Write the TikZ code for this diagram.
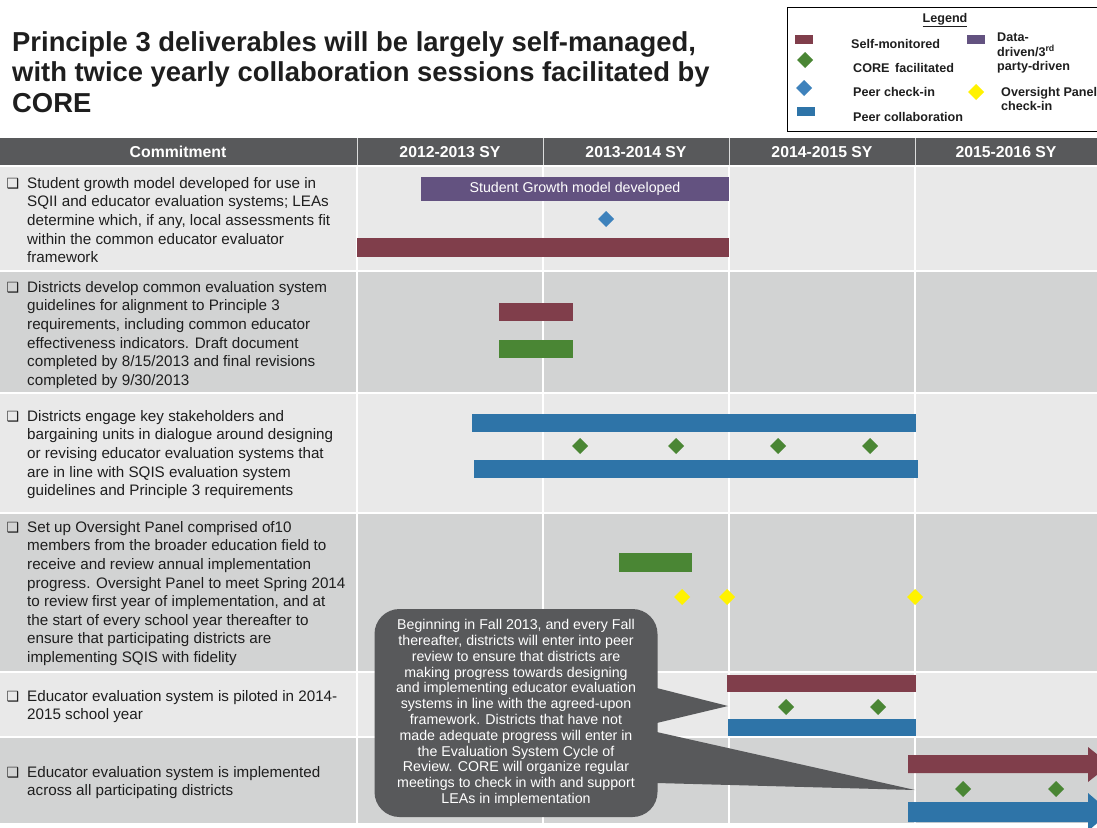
\documentclass[tikz,border=0pt]{standalone}
\usepackage{fontspec}
\setmainfont{Liberation Sans}
\newfontfamily\dejavu{DejaVu Sans}
\definecolor{selfmon}{RGB}{128,62,75}
\definecolor{datadr}{RGB}{99,82,128}
\definecolor{peercol}{RGB}{46,116,168}
\definecolor{peerchk}{RGB}{62,130,188}
\definecolor{corefac}{RGB}{74,134,52}
\definecolor{headgray}{RGB}{88,89,91}
\definecolor{rowlight}{RGB}{233,233,233}
\definecolor{rowdark}{RGB}{210,211,211}
\definecolor{ink}{RGB}{30,30,30}
\def\dm{+(-8,0) -- +(0,-8) -- +(8,0) -- +(0,8) -- cycle}
\def\rtxt{\fontsize{15.2}{18.6}\selectfont}

\begin{document}
\begin{tikzpicture}[x=1pt,y=-1pt,
  row/.style={anchor=north west,inner sep=0pt,align=left,font=\rtxt,text=ink},
  bul/.style={inner sep=0pt,font=\dejavu\fontsize{14}{14}\selectfont,text=ink},
  yr/.style={text=white,font=\bfseries\fontsize{15.8}{17}\selectfont},
  lgd/.style={anchor=west,inner sep=0pt,align=left,font=\bfseries\fontsize{12.6}{14.5}\selectfont,text=ink},
  grid/.style={draw=white,line width=1.5pt}]
\useasboundingbox[fill=white] (0,0) rectangle (1097,827);

\node[anchor=north west,inner sep=0pt,align=left,text=ink,
  font=\bfseries\fontsize{27.4}{30.5}\selectfont] (ttl) at (12,31)
  {Principle 3 deliverables will be largely self-managed,\\
   with twice yearly collaboration sessions facilitated by\\
   CORE};

\draw[line width=0.8pt] (787,7) rectangle (1100,131);
\node[lgd,anchor=center] (lgtitle) at (945,20) {\underline{Legend}};
\fill[selfmon] (795,35) rectangle (813,44);
\fill[corefac] (805,60) \dm;
\fill[peerchk] (804,88) \dm;
\fill[peercol] (797,107) rectangle (815,116);
\fill[datadr] (967,35) rectangle (985,44);
\fill[yellow] (976,92) \dm;
\node[lgd] (lg1) at (851,44) {Self-monitored};
\node[lgd] (lg2) at (853,68) {CORE\, facilitated};
\node[lgd] (lg3) at (853,92) {Peer check-in};
\node[lgd] (lg4) at (853,117) {Peer collaboration};
\node[lgd] (lg5) at (997,53) {Data-\\driven/3\textsuperscript{rd}\\party-driven};
\node[lgd] (lg6) at (1001,99) {Oversight Panel\\check-in};

\fill[headgray] (0,138) rectangle (1097,166);
\fill[rowlight] (0,166) rectangle (1097,271);
\fill[rowdark] (0,271) rectangle (1097,393);
\fill[rowlight] (0,393) rectangle (1097,513);
\fill[rowdark] (0,513) rectangle (1097,672);
\fill[rowlight] (0,672) rectangle (1097,737);
\fill[rowdark] (0,737) rectangle (1097,823);
\foreach \x in {357,543,729,915}{
  \draw[draw=rowdark!80,line width=1pt] (\x,138) -- (\x,166);
  \draw[grid] (\x,166) -- (\x,823);
}
\foreach \y in {166,271,393,513,672,737}{
  \draw[grid] (0,\y) -- (1097,\y);
}

\node[yr] (h0) at (178,152) {Commitment};
\node[yr] (h1) at (450,152) {2012-2013 SY};
\node[yr] (h2) at (636,152) {2013-2014 SY};
\node[yr] (h3) at (822,152) {2014-2015 SY};
\node[yr] (h4) at (1006,152) {2015-2016 SY};

\node[bul] (b1) at (13,184) {❑};
\node[bul] (b2) at (13,288) {❑};
\node[bul] (b3) at (13,417) {❑};
\node[bul] (b4) at (13,528) {❑};
\node[bul] (b5) at (13,697) {❑};
\node[bul] (b6) at (13,773) {❑};
\node[row] (t1) at (27,177) {Student growth model developed for use in\\
  SQII and educator evaluation systems; LEAs\\
  determine which, if any, local assessments fit\\
  within the common educator evaluator\\
  framework};
\node[row] (t2) at (27,281) {Districts develop common evaluation system\\
  guidelines for alignment to Principle 3\\
  requirements, including common educator\\
  effectiveness indicators. Draft document\\
  completed by 8/15/2013 and final revisions\\
  completed by 9/30/2013};
\node[row] (t3) at (27,410) {Districts engage key stakeholders and\\
  bargaining units in dialogue around designing\\
  or revising educator evaluation systems that\\
  are in line with SQIS evaluation system\\
  guidelines and Principle 3 requirements};
\node[row] (t4) at (27,521) {Set up Oversight Panel comprised of10\\
  members from the broader education field to\\
  receive and review annual implementation\\
  progress. Oversight Panel to meet Spring 2014\\
  to review first year of implementation, and at\\
  the start of every school year thereafter to\\
  ensure that participating districts are\\
  implementing SQIS with fidelity};
\node[row] (t5) at (27,690) {Educator evaluation system is piloted in 2014-\\
  2015 school year};
\node[row] (t6) at (27,766) {Educator evaluation system is implemented\\
  across all participating districts};

\node[fill=datadr,minimum width=308pt,minimum height=24pt,inner sep=0pt,
  text=white,font=\fontsize{14.2}{15}\selectfont] (sgm) at (575,189)
  {Student Growth model developed};
\fill[peerchk] (606,219) \dm;
\fill[selfmon] (357,238) rectangle (729,257);

\fill[selfmon] (499,303) rectangle (573,321);
\fill[corefac] (499,340) rectangle (573,358);

\fill[peercol] (472,414) rectangle (916,432);
\foreach \x in {580,676,778,870}
  \fill[corefac] (\x,446) \dm;
\fill[peercol] (474,460) rectangle (918,478);

\fill[corefac] (619,553) rectangle (692,572);
\foreach \x in {682,727,915}
  \fill[yellow] (\x,597) \dm;

\fill[selfmon] (727,675) rectangle (916,692);
\foreach \x in {786,878}
  \fill[corefac] (\x,707) \dm;
\fill[peercol] (728,719) rectangle (916,736);

\fill[selfmon] (908,755) -- (1088,755) -- (1088,747) -- (1110,764.5)
  -- (1088,782) -- (1088,773) -- (908,773) -- cycle;
\foreach \x in {963,1056}
  \fill[corefac] (\x,789) \dm;
\fill[peercol] (908,802) -- (1088,802) -- (1088,793) -- (1110,812)
  -- (1088,831) -- (1088,822) -- (908,822) -- cycle;

\coordinate (tipA) at (728,706);
\coordinate (tipB) at (915,790);
\node[fill=headgray,rounded corners=25pt,minimum width=283pt,minimum height=208pt,
  inner sep=0pt,text=white,align=center,font=\fontsize{14.2}{15.8}\selectfont] (note) at (516,713)
  {Beginning in Fall 2013, and every Fall\\
   thereafter, districts will enter into peer\\
   review to ensure that districts are\\
   making progress towards designing\\
   and implementing educator evaluation\\
   systems in line with the agreed-upon\\
   framework. Districts that have not\\
   made adequate progress will enter in\\
   the Evaluation System Cycle of\\
   Review. CORE will organize regular\\
   meetings to check in with and support\\
   LEAs in implementation};
\fill[headgray] ([xshift=-1pt,yshift=25pt]note.east) -- (tipA) -- ([xshift=-1pt,yshift=-10pt]note.east) -- cycle;
\fill[headgray] ([xshift=-1pt,yshift=-19pt]note.east) -- (tipB) -- ([xshift=-1pt,yshift=-70pt]note.east) -- cycle;
\end{tikzpicture}
\end{document}
